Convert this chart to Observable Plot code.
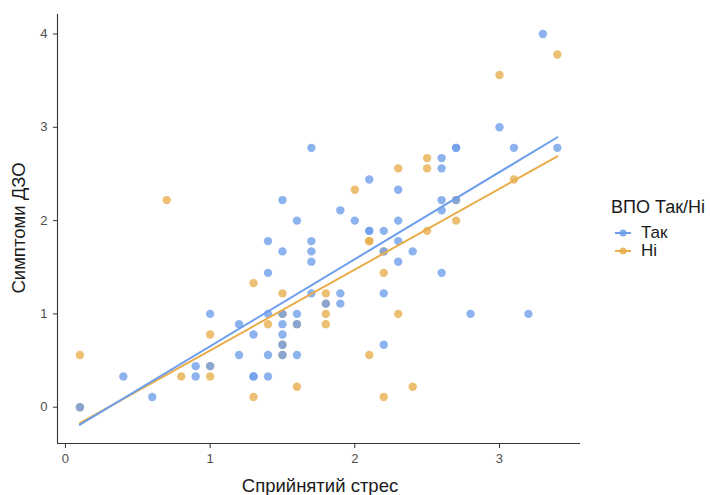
<!DOCTYPE html>
<html>
<head>
<meta charset="utf-8">
<script src="https://cdn.jsdelivr.net/npm/d3@7"></script>
<script src="https://cdn.jsdelivr.net/npm/@observablehq/plot@0.6"></script>
<style>
  body { margin: 0; background: #fff; font-family: "Liberation Sans", Arial, sans-serif; }
  #wrap { position: relative; width: 710px; height: 495px; }
  .lbl { position: absolute; color: #1a1a1a; font-size: 18.5px; line-height: 22px; white-space: nowrap; }
</style>
</head>
<body>
<div id="wrap"></div>
<script>
// ---- data ----
const groups = ["Так", "Ні"];
const groupColors = ["#6d9eeb", "#e8ad4a"];

const takX = [0.1, 0.4, 0.6, 0.9, 0.9, 1.0, 1.0,
  1.2, 1.2, 1.3, 1.3, 1.3,
  1.4, 1.4, 1.4, 1.4, 1.4,
  1.5, 1.5, 1.5, 1.5, 1.5, 1.5, 1.5,
  1.6, 1.6, 1.6, 1.6,
  1.7, 1.7, 1.7, 1.7, 1.7,
  1.8, 1.9, 1.9, 1.9, 2.0,
  2.1, 2.1, 2.1,
  2.2, 2.2, 2.2, 2.2,
  2.3, 2.3, 2.3, 2.3, 2.4,
  2.6, 2.6, 2.6, 2.6, 2.6,
  2.7, 2.7, 2.7, 2.8, 3.0, 3.1, 3.2, 3.3, 3.4];
const takY = [0, 0.33, 0.11, 0.44, 0.33, 1.0, 0.44,
  0.89, 0.56, 0.78, 0.33, 0.33,
  1.78, 1.44, 1.0, 0.56, 0.33,
  2.22, 1.67, 1.0, 0.89, 0.78, 0.67, 0.56,
  2.0, 1.0, 0.89, 0.56,
  2.78, 1.78, 1.67, 1.56, 1.22,
  1.11, 2.11, 1.22, 1.11, 2.0,
  2.44, 1.89, 1.89,
  1.89, 1.67, 1.22, 0.67,
  2.33, 2.0, 1.78, 1.56, 1.67,
  2.67, 2.56, 2.22, 2.11, 1.44,
  2.78, 2.78, 2.22, 1.0, 3.0, 2.78, 1.0, 4.0, 2.78];

const niX = [0.1, 0.1, 0.7, 0.8, 1.0, 1.0, 1.0,
  1.3, 1.3, 1.4,
  1.5, 1.5, 1.5, 1.5,
  1.6, 1.6,
  1.8, 1.8, 1.8, 1.8,
  2.0, 2.1, 2.1, 2.1,
  2.2, 2.2, 2.2,
  2.3, 2.3, 2.4,
  2.5, 2.5, 2.5,
  2.7, 2.7, 3.0, 3.1, 3.4];
const niY = [0.56, 0, 2.22, 0.33, 0.78, 0.44, 0.33,
  1.33, 0.11, 0.89,
  1.22, 1.0, 0.67, 0.56,
  0.89, 0.22,
  1.22, 1.11, 1.0, 0.89,
  2.33, 1.78, 1.78, 0.56,
  1.67, 1.44, 0.11,
  2.56, 1.0, 0.22,
  2.67, 2.56, 1.89,
  2.22, 2.0, 3.56, 2.44, 3.78];

const xTicks = [0, 1, 2, 3];
const yTicks = [0, 1, 2, 3, 4];
const xTitle = "Сприйнятий стрес";
const yTitle = "Симптоми ДЗО";
const legendTitle = "ВПО Так/Ні";

// ---- build ----
const data = [
  ...niX.map((x, i) => ({x, y: niY[i], g: groups[1]})),
  ...takX.map((x, i) => ({x, y: takY[i], g: groups[0]}))
];

const xDomain = [-0.055, 3.56];
const yDomain = [-0.389, 4.209];
const font = '"Liberation Sans", Arial, sans-serif';
const fmt = d3.format("d");

const chart = Plot.plot({
  width: 710,
  height: 495,
  marginLeft: 57,
  marginRight: 130,
  marginTop: 14,
  marginBottom: 52,
  style: {fontFamily: font, background: "white"},
  x: {domain: xDomain},
  y: {domain: yDomain},
  color: {domain: groups, range: groupColors},
  marks: [
    Plot.axisX({ticks: xTicks, tickFormat: fmt, tickSize: 5, tickPadding: 5, fontSize: 13, stroke: "#333", fill: "#4d4d4d", label: null}),
    Plot.axisY({ticks: yTicks, tickFormat: fmt, tickSize: 4, tickPadding: 6, fontSize: 13, stroke: "#333", fill: "#4d4d4d", label: null}),
    Plot.ruleX([xDomain[0]], {stroke: "#333", strokeWidth: 1.1}),
    Plot.ruleY([yDomain[0]], {stroke: "#333", strokeWidth: 1.1}),
    Plot.dot(data, {x: "x", y: "y", fill: "g", r: 4.2, fillOpacity: 0.78, stroke: null}),
    Plot.linearRegressionY(data, {x: "x", y: "y", stroke: "g", ci: 0, strokeWidth: 2})
  ]
});

const wrap = document.getElementById("wrap");
wrap.appendChild(chart);

function addText(text, left, centerY, size, transform) {
  const d = document.createElement("div");
  d.className = "lbl";
  d.textContent = text;
  d.style.fontSize = size + "px";
  d.style.left = left + "px";
  d.style.top = (centerY - 11) + "px";
  if (transform) d.style.transform = transform;
  wrap.appendChild(d);
  return d;
}

// axis titles
addText(xTitle, 320, 486, 18.5, "translateX(-50%)");
const yt = addText(yTitle, 19, 228, 18.5, "translateX(-50%) rotate(-90deg)");
yt.style.transformOrigin = "50% 50%";

// legend
addText(legendTitle, 611, 207, 18, null);
const ns = "http://www.w3.org/2000/svg";
const keyRows = [233, 251];
groups.forEach((g, i) => {
  const s = document.createElementNS(ns, "svg");
  s.setAttribute("width", "20");
  s.setAttribute("height", "10");
  s.style.position = "absolute";
  s.style.left = "613px";
  s.style.top = (keyRows[i] - 5) + "px";
  const ln = document.createElementNS(ns, "line");
  ln.setAttribute("x1", "2"); ln.setAttribute("x2", "18");
  ln.setAttribute("y1", "5"); ln.setAttribute("y2", "5");
  ln.setAttribute("stroke", groupColors[i]); ln.setAttribute("stroke-width", "2");
  const c = document.createElementNS(ns, "circle");
  c.setAttribute("cx", "10"); c.setAttribute("cy", "5"); c.setAttribute("r", "3.5");
  c.setAttribute("fill", groupColors[i]); c.setAttribute("fill-opacity", "0.85");
  s.appendChild(ln); s.appendChild(c);
  wrap.appendChild(s);
  addText(g, 641, keyRows[i], 17, null);
});
</script>
</body>
</html>
